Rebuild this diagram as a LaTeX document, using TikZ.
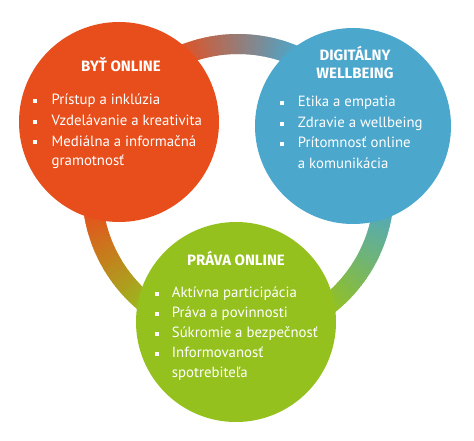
\documentclass[tikz,border=0pt]{standalone}
\usepackage{fontspec}
\setmainfont{PT Sans}
\newfontfamily\ttlfont{Fira Sans}
\definecolor{cred}{RGB}{232,78,28}
\definecolor{cblue}{RGB}{75,167,204}
\definecolor{cgreen}{RGB}{149,193,31}
\begin{document}
\begin{tikzpicture}[x=1pt,y=1pt,
  bigcircle/.style={circle, inner sep=0pt, minimum size=200pt},
  ttl/.style={anchor=base, inner sep=0pt, text=white, font=\ttlfont\fontsize{15}{16}\selectfont\bfseries},
  itm/.style={anchor=base west, inner sep=0pt, text=white, font=\fontsize{14.8}{16}\selectfont},
  bul/.style={rectangle, fill=white, inner sep=0pt, minimum size=4pt},
  ringseg/.style={line width=20pt}]
\useasboundingbox (0,0) rectangle (474,440);
\fill[white] (0,0) rectangle (474,440);
\coordinate (ringc) at (238,250);
% ring with angular gradient (blended across the visible gaps)
\foreach \a in {-90,-89,...,29} {
  \pgfmathtruncatemacro\t{max(0,min(100,(\a+54)/50*100))}
  \pgfmathsetmacro\b{\a+1.6}
  \draw[ringseg, draw=cblue!\t!cgreen] (ringc) ++(\a:146) arc[start angle=\a, end angle=\b, radius=146];
}
\foreach \a in {30,31,...,149} {
  \pgfmathtruncatemacro\t{max(0,min(100,(\a-66)/48*100))}
  \pgfmathsetmacro\b{\a+1.6}
  \draw[ringseg, draw=cred!\t!cblue] (ringc) ++(\a:146) arc[start angle=\a, end angle=\b, radius=146];
}
\foreach \a in {150,151,...,269} {
  \pgfmathtruncatemacro\t{max(0,min(100,(\a-186)/48*100))}
  \pgfmathsetmacro\b{\a+1.6}
  \draw[ringseg, draw=cgreen!\t!cred] (ringc) ++(\a:146) arc[start angle=\a, end angle=\b, radius=146];
}
% circles
\node[bigcircle, fill=cred] (byt) at (119,318) {};
\node[bigcircle, fill=cblue, minimum size=196pt] (dig) at (353,314) {};
\node[bigcircle, fill=cgreen] (prava) at (236,118) {};
% red
\node[ttl] (tbyt) at (121,368) {BYŤ ONLINE};
\node[bul] (rb1) at (35,338.5) {};
\node[itm] (r1) at (51.5,335) {Prístup a inklúzia};
\node[bul] (rb2) at (35,318) {};
\node[itm] (r2) at (51.5,314.5) {Vzdelávanie a kreativita};
\node[bul] (rb3) at (35,297.5) {};
\node[itm] (r3) at (51.5,294) {Mediálna a informačná};
\node[itm] (r4) at (51.5,274) {gramotnosť};
% blue
\node[ttl] (tdig1) at (355,379.3) {DIGITÁLNY};
\node[ttl] (tdig2) at (355,361) {WELLBEING};
\node[bul] (bb1) at (281.7,336.5) {};
\node[itm] (b1) at (297.7,333) {Etika a empatia};
\node[bul] (bb2) at (281.7,315.5) {};
\node[itm] (b2) at (297.7,312) {Zdravie a wellbeing};
\node[bul] (bb3) at (281.7,295.5) {};
\node[itm] (b3) at (297.7,292) {Prítomnosť online};
\node[itm] (b4) at (297.7,272) {a komunikácia};
% green
\node[ttl] (tpr) at (236,175) {PRÁVA ONLINE};
\node[bul] (gb1) at (156.7,146.5) {};
\node[itm] (g1) at (171.7,143) {Aktívna participácia};
\node[bul] (gb2) at (156.7,126.5) {};
\node[itm] (g2) at (171.7,123) {Práva a povinnosti};
\node[bul] (gb3) at (156.7,106.5) {};
\node[itm] (g3) at (171.7,103) {Súkromie a bezpečnosť};
\node[bul] (gb4) at (156.7,86.5) {};
\node[itm] (g4) at (171.7,83) {Informovanosť};
\node[itm] (g5) at (171.7,63) {spotrebiteľa};
\end{tikzpicture}
\end{document}
